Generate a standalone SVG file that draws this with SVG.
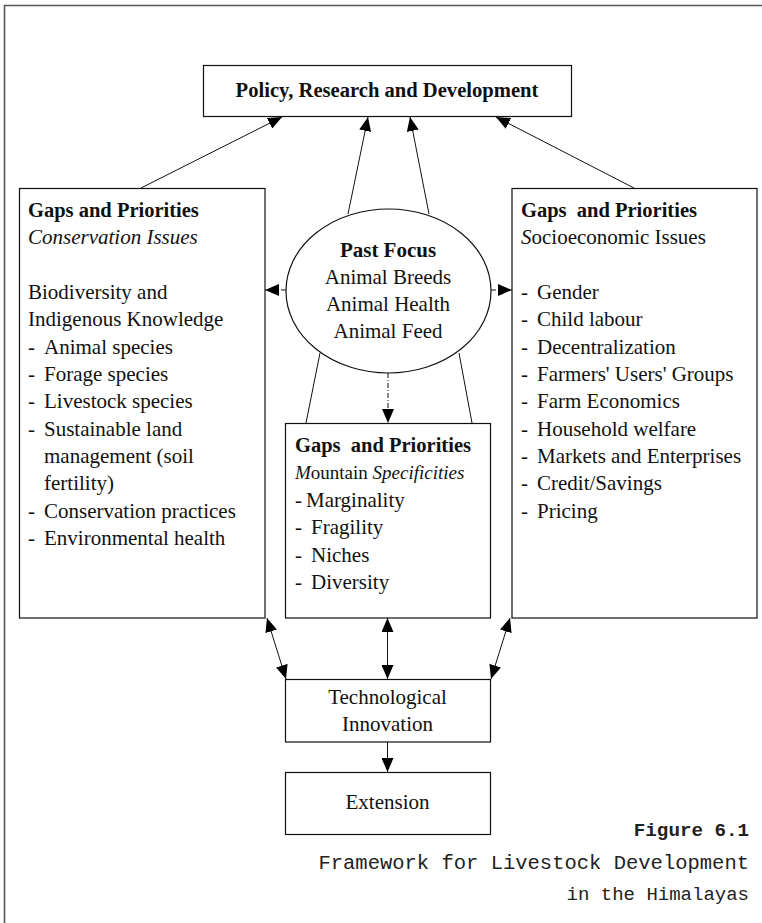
<svg xmlns="http://www.w3.org/2000/svg" width="762" height="923" viewBox="0 0 762 923">
<style>
.box{fill:#fff;stroke:#111;stroke-width:1.2}
.t{font-family:"Liberation Serif","Times New Roman",serif;font-size:21px;fill:#111}
.b{font-weight:bold}
.i{font-style:italic}
.c{text-anchor:middle}
.ln{stroke:#111;stroke-width:1;fill:none}
.dd{stroke:#111;stroke-width:1;fill:none;stroke-dasharray:5 2 1 2}
.cap{font-family:"Liberation Mono","Courier New",monospace;font-size:19.5px;fill:#222;text-anchor:end}
</style>
<defs>
<marker id="ah" markerUnits="userSpaceOnUse" markerWidth="14" markerHeight="12" refX="14" refY="6" orient="auto-start-reverse" viewBox="0 0 14 12">
<path d="M0,0 L14,6 L0,12 z" fill="#000"/>
</marker>
</defs>
<rect width="762" height="923" fill="#fff"/>
<path d="M4.5,923 V5.5 H762" fill="none" stroke="#555" stroke-width="1.6"/>

<g id="connectors">
<line class="ln" x1="141" y1="188" x2="282" y2="117" marker-end="url(#ah)"/>
<line class="ln" x1="348" y1="214" x2="368" y2="117" marker-end="url(#ah)"/>
<line class="ln" x1="429" y1="214" x2="410" y2="117" marker-end="url(#ah)"/>
<line class="ln" x1="634" y1="188" x2="496" y2="117" marker-end="url(#ah)"/>
<line class="dd" x1="286" y1="290" x2="265" y2="290" marker-end="url(#ah)"/>
<line class="dd" x1="491" y1="290" x2="512" y2="290" marker-end="url(#ah)"/>
<line class="dd" x1="388" y1="373" x2="388" y2="423" marker-end="url(#ah)"/>
<line class="ln" x1="320" y1="353" x2="306" y2="423"/>
<line class="ln" x1="459" y1="353" x2="472" y2="423"/>
<line class="ln" x1="267" y1="618" x2="286" y2="679" marker-start="url(#ah)" marker-end="url(#ah)"/>
<line class="ln" x1="387.5" y1="618" x2="387.5" y2="679" marker-start="url(#ah)" marker-end="url(#ah)"/>
<line class="ln" x1="510" y1="618" x2="491" y2="679" marker-start="url(#ah)" marker-end="url(#ah)"/>
<line class="ln" x1="387.5" y1="742" x2="387.5" y2="772" marker-end="url(#ah)"/>
</g>

<g id="policy">
<rect class="box" x="203.5" y="65.5" width="368" height="51"/>
<text class="t b c" x="387" y="97" style="font-size:20.6px">Policy, Research and Development</text>
</g>

<g id="past-focus">
<ellipse cx="388.5" cy="291" rx="102.5" ry="82" fill="#fff" stroke="#111" stroke-width="1.2"/>
<text class="t c" x="388" y="257"><tspan class="b">Past Focus</tspan><tspan x="388" y="284">Animal Breeds</tspan><tspan x="388" y="311">Animal Health</tspan><tspan x="388" y="338">Animal Feed</tspan></text>
</g>

<g id="conservation">
<rect class="box" x="19.5" y="188.5" width="245.5" height="429.5"/>
<text class="t b" x="28" y="217" style="font-size:20.5px">Gaps and Priorities</text>
<text class="t i" x="28" y="244">Conservation Issues</text>
<text class="t" x="28" y="299">Biodiversity and</text>
<text class="t" x="28" y="326">Indigenous Knowledge</text>
<text class="t"><tspan x="28" y="354">-</tspan><tspan x="44" y="354">Animal species</tspan></text>
<text class="t"><tspan x="28" y="381">-</tspan><tspan x="44" y="381">Forage species</tspan></text>
<text class="t"><tspan x="28" y="408">-</tspan><tspan x="44" y="408">Livestock species</tspan></text>
<text class="t"><tspan x="28" y="436">-</tspan><tspan x="44" y="436">Sustainable land</tspan></text>
<text class="t" x="44" y="463">management (soil</text>
<text class="t" x="44" y="490">fertility)</text>
<text class="t"><tspan x="28" y="518">-</tspan><tspan x="44" y="518">Conservation practices</tspan></text>
<text class="t"><tspan x="28" y="545">-</tspan><tspan x="44" y="545">Environmental health</tspan></text>
</g>

<g id="socioeconomic">
<rect class="box" x="512" y="188.5" width="245" height="429.5"/>
<text class="t b" x="521" y="217" style="font-size:20.5px" xml:space="preserve">Gaps  and Priorities</text>
<text class="t" x="521" y="244"><tspan class="i">S</tspan>ocioeconomic Issues</text>
<text class="t"><tspan x="521" y="299">-</tspan><tspan x="537" y="299">Gender</tspan></text>
<text class="t"><tspan x="521" y="326">-</tspan><tspan x="537" y="326">Child labour</tspan></text>
<text class="t"><tspan x="521" y="354">-</tspan><tspan x="537" y="354">Decentralization</tspan></text>
<text class="t"><tspan x="521" y="381">-</tspan><tspan x="537" y="381">Farmers' Users' Groups</tspan></text>
<text class="t"><tspan x="521" y="408">-</tspan><tspan x="537" y="408">Farm Economics</tspan></text>
<text class="t"><tspan x="521" y="436">-</tspan><tspan x="537" y="436">Household welfare</tspan></text>
<text class="t"><tspan x="521" y="463">-</tspan><tspan x="537" y="463">Markets and Enterprises</tspan></text>
<text class="t"><tspan x="521" y="490">-</tspan><tspan x="537" y="490">Credit/Savings</tspan></text>
<text class="t"><tspan x="521" y="518">-</tspan><tspan x="537" y="518">Pricing</tspan></text>
</g>

<g id="mountain">
<rect class="box" x="285.5" y="423.5" width="205" height="194.5"/>
<text class="t b" x="295" y="452" style="font-size:20.5px" xml:space="preserve">Gaps  and Priorities</text>
<text class="t" x="295" y="479" style="font-size:19px"><tspan class="i">M</tspan>ountain <tspan class="i">Specificities</tspan></text>
<text class="t"><tspan x="295" y="507">-</tspan><tspan x="306" y="507">Marginality</tspan></text>
<text class="t"><tspan x="295" y="534">-</tspan><tspan x="311" y="534">Fragility</tspan></text>
<text class="t"><tspan x="295" y="562">-</tspan><tspan x="311" y="562">Niches</tspan></text>
<text class="t"><tspan x="295" y="589">-</tspan><tspan x="311" y="589">Diversity</tspan></text>
</g>

<g id="technological">
<rect class="box" x="285.5" y="679.5" width="205" height="62.5"/>
<text class="t c" x="387.5" y="704">Technological</text>
<text class="t c" x="387.5" y="731">Innovation</text>
</g>

<g id="extension">
<rect class="box" x="285.5" y="772.5" width="205" height="62"/>
<text class="t c" x="387.5" y="809">Extension</text>
</g>

<g id="caption">
<text class="cap" x="749" y="836" style="font-weight:bold;font-size:19.2px">Figure 6.1</text>
<text class="cap" x="749" y="869" style="font-size:20.5px">Framework for Livestock Development</text>
<text class="cap" x="749" y="900" style="font-size:19px">in the Himalayas</text>
</g>
</svg>
